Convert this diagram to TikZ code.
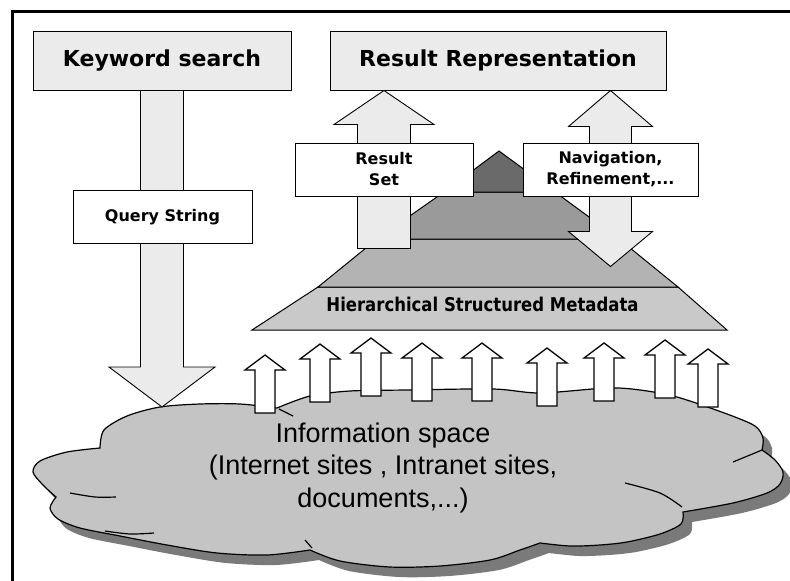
\documentclass[tikz,border=0pt]{standalone}
\usepackage{fontspec}
\newfontfamily\labelfont{DejaVu Sans}
\newfontfamily\cloudfont{Liberation Sans}
\usetikzlibrary{backgrounds}
\definecolor{boxgray}{HTML}{EBEBEB}
\definecolor{cloudgray}{HTML}{C4C4C4}
\definecolor{shadowgray}{HTML}{7A7A7A}
\definecolor{layerone}{HTML}{C9C9C9}
\definecolor{layertwo}{HTML}{B3B3B3}
\definecolor{layerthree}{HTML}{9A9A9A}
\definecolor{layertop}{HTML}{6A6A6A}
\tikzset{
    headbox/.style={draw, fill=boxgray, line width=1pt, inner sep=0pt, minimum height=59pt, font=\labelfont\bfseries\fontsize{22}{26}\selectfont},
    labelbox/.style={draw, fill=white, line width=1pt, inner sep=0pt, minimum height=53pt, align=center, font=\labelfont\bfseries\fontsize{16}{21}\selectfont},
    bigarrow/.style={draw, fill=boxgray, line width=0.9pt},
    smallarrow/.style={draw, fill=white, line width=1.3pt},
    smallup/.pic={\draw[smallarrow] (0,0) -- (20,15) -- (10,15) -- (10,58) -- (-10,58) -- (-10,15) -- (-20,15) -- cycle;},
    layer/.style={draw, line width=1pt},
    cloudline/.style={line width=1.2pt},
    cloudoutline/.style={insert path={(100,448)
        -- plot[smooth] coordinates {(100,448) (104,430) (127,416) (160,407) (200,404) (240,404) (277,408)}
        -- plot[smooth] coordinates {(277,408) (310,396) (350,391) (407,390) (493,389) (540,393) (607,388) (640,390) (677,397) (727,414) (755,426) (763,438) (762,450)}
        -- plot[smooth] coordinates {(762,450) (775,460) (783,472) (780,484) (767,493) (733,503) (683,512)}
        -- plot[smooth] coordinates {(683,512) (681,524) (660,534) (627,542) (600,545) (570,546) (540,543)}
        -- plot[smooth] coordinates {(540,543) (520,550) (490,560) (440,566) (390,567) (340,561) (310,550)}
        -- plot[smooth] coordinates {(310,550) (267,555) (217,553) (167,545) (120,536) (80,528) (58,519) (50,508) (56,497)}
        -- plot[smooth] coordinates {(56,497) (43,485) (33,472) (40,461) (67,452) (100,448)}
        -- cycle}}
}
\begin{document}
\begin{tikzpicture}[x=1pt, y=-1pt]
  \useasboundingbox (0,0) rectangle (790,581);
  % boxes
  \node[headbox, minimum width=258pt] (kw) at (162,60.5) {Keyword search};
  \node[headbox, minimum width=336pt] (resrep) at (498,60.5) {Result Representation};
  \node[labelbox, minimum width=179pt] (query) at (162.5,217) {Query String};
  \node[labelbox, minimum width=178pt] (rset) at (384,169.5) {Result\\Set};
  \node[labelbox, minimum width=175pt] (nav) at (610.5,169.5) {Navigation,\\Refinement,...};
  \coordinate (rstip) at (rset.center |- resrep.south);
  \coordinate (navtip) at (nav.center |- resrep.south);
  \begin{scope}[on background layer]
    \draw[line width=3pt] (12,590) -- (12,11.5) -- (800,11.5);
    % metadata pyramid
    \draw[layer, fill=layerone] (252,330) -- (727,330) -- (678,287) -- (318,287) -- cycle;
    \draw[layer, fill=layertwo] (318,287) -- (678,287) -- (619,239) -- (377,239) -- cycle;
    \draw[layer, fill=layerthree] (377,239) -- (619,239) -- (555,192) -- (444,192) -- cycle;
    \draw[layer, fill=layertop] (444,192) -- (555,192) -- (499,151) -- cycle;
    \node[font=\labelfont\bfseries\fontsize{16.5}{20}\selectfont, yscale=1.15] (hsm) at (482.5,304) {Hierarchical Structured Metadata};
    % information cloud
    \fill[shift={(9,10)}, shadowgray, cloudoutline];
    \draw[cloudline, fill=cloudgray, cloudoutline];
    \draw[cloudline] plot[smooth] coordinates {(70,493) (95,497) (116,497)};
    \draw[cloudline] plot[smooth] coordinates {(105,531) (130,534) (154,533)};
    \draw[cloudline] plot[smooth] coordinates {(733,462) (750,455) (762,450)};
    \draw[cloudline] plot[smooth] coordinates {(625,483) (660,493) (682,507)};
    \draw[cloudline] (279,409) -- (293,416);
    \draw[cloudline] (305,540) -- (312,548);
    \node[font=\cloudfont\fontsize{27}{32.5}\selectfont, align=center] (infospace) at (383,468) {Information space\\(Internet sites , Intranet sites,\\documents,...)};
    \pic at (265,355) {smallup};
    \pic at (320,344) {smallup};
    \pic at (371,338) {smallup};
    \pic at (422,343) {smallup};
    \pic at (482,343) {smallup};
    \pic at (547,348) {smallup};
    \pic at (604,343) {smallup};
    \pic at (665,340) {smallup};
    \pic at (708,349) {smallup};
    % block arrows
    \draw[bigarrow] (kw.south) ++(-21.5,0) -- ++(0,276.5) -- ++(-31.5,0) -- ++(53,40) -- ++(53,-40) -- ++(-31.5,0) -- ++(0,-276.5) -- cycle;
    \draw[bigarrow] (rstip) -- ++(50,34) -- ++(-23.5,0) -- ++(0,124) -- ++(-53,0) -- ++(0,-124) -- ++(-23.5,0) -- cycle;
    \draw[bigarrow] (navtip) -- ++(42,36) -- ++(-21,0) -- ++(0,105) -- ++(21,0) -- ++(-42,35) -- ++(-42,-35) -- ++(21,0) -- ++(0,-105) -- ++(-21,0) -- cycle;
  \end{scope}
\end{tikzpicture}
\end{document}
